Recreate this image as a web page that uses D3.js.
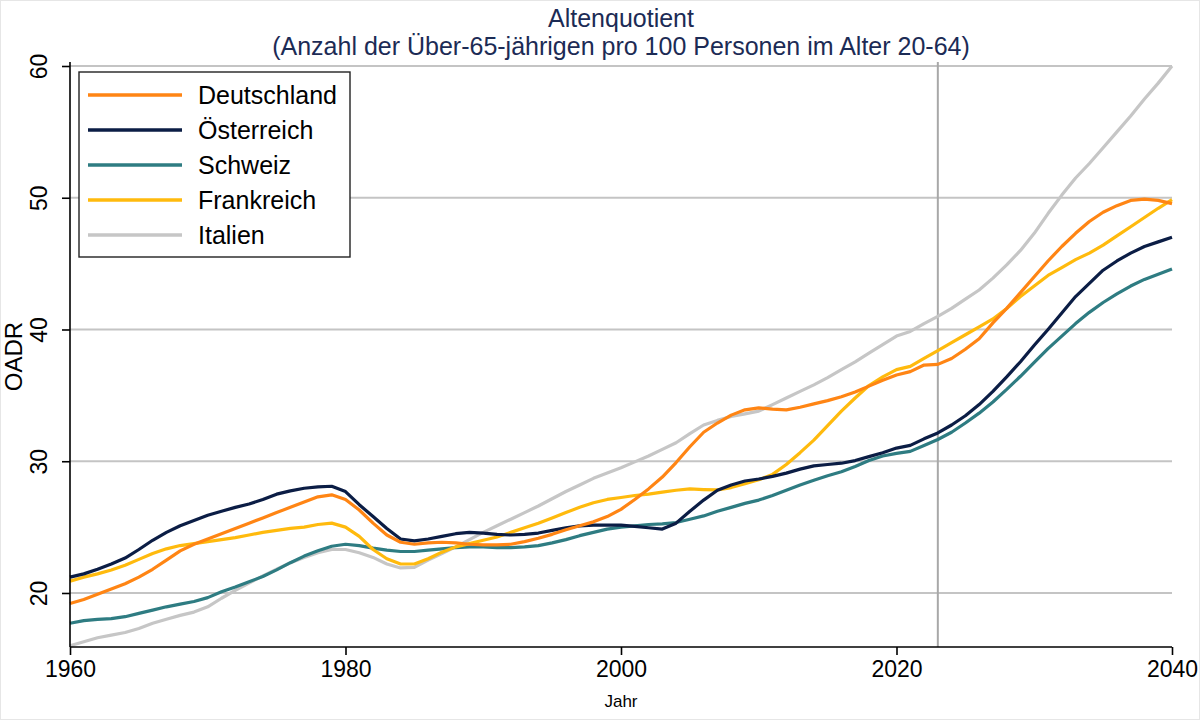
<!DOCTYPE html>
<html>
<head>
<meta charset="utf-8">
<script src="https://cdn.jsdelivr.net/npm/d3@7"></script>
<style>
html,body{margin:0;padding:0;background:#fff;}
svg{display:block;font-family:"Liberation Sans",Arial,Helvetica,sans-serif;}
</style>
</head>
<body>
<svg id="chart" width="1200" height="720"></svg>
<script>
const years = d3.range(1960, 2041);
const xTicks = [1960, 1980, 2000, 2020, 2040];
const yTicks = [20, 30, 40, 50, 60];
const markerYear = 2023;
const seriesNames = ["Deutschland", "Österreich", "Schweiz", "Frankreich", "Italien"];
const seriesColors = ["#FF8514", "#0B1D45", "#2E7C82", "#FFBA0D", "#C6C6C6"];

const deutschland = [19.2,19.5,19.9,20.3,20.7,21.2,21.8,22.5,23.2,23.7,24.1,24.5,24.9,25.3,25.7,26.1,26.5,26.9,27.3,27.45,
27.1,26.3,25.3,24.4,23.85,23.7,23.8,23.85,23.8,23.7,23.65,23.65,23.7,23.9,24.15,24.45,24.8,25.1,25.4,25.8,
26.35,27.1,27.9,28.8,29.9,31.1,32.2,32.9,33.5,33.9,34.05,33.95,33.9,34.1,34.35,34.6,34.9,35.25,35.7,36.15,
36.55,36.8,37.3,37.35,37.8,38.5,39.3,40.5,41.6,42.8,44.0,45.2,46.3,47.3,48.2,48.9,49.4,49.8,49.9,49.8,49.55];
const oesterreich = [21.2,21.45,21.8,22.2,22.65,23.3,24.0,24.6,25.1,25.5,25.9,26.2,26.5,26.75,27.1,27.5,27.75,27.95,28.05,28.1,
27.7,26.7,25.8,24.9,24.1,23.95,24.1,24.3,24.5,24.6,24.55,24.45,24.4,24.45,24.55,24.75,24.95,25.1,25.15,25.15,
25.15,25.05,24.95,24.85,25.3,26.2,27.05,27.8,28.2,28.5,28.65,28.85,29.1,29.4,29.65,29.75,29.85,30.05,30.35,30.65,
31.0,31.2,31.7,32.15,32.75,33.45,34.3,35.3,36.4,37.55,38.8,40.0,41.25,42.5,43.5,44.5,45.2,45.8,46.3,46.65,47.0];
const schweiz = [17.7,17.9,18.0,18.05,18.2,18.45,18.7,18.95,19.15,19.35,19.65,20.1,20.45,20.85,21.25,21.75,22.3,22.8,23.2,23.55,
23.7,23.6,23.4,23.25,23.15,23.15,23.25,23.35,23.45,23.5,23.5,23.45,23.45,23.5,23.6,23.8,24.05,24.35,24.6,24.85,
25.0,25.1,25.2,25.25,25.35,25.6,25.85,26.2,26.5,26.8,27.05,27.4,27.8,28.2,28.55,28.9,29.2,29.6,30.05,30.4,
30.6,30.75,31.2,31.65,32.2,32.9,33.65,34.5,35.45,36.45,37.5,38.55,39.5,40.45,41.3,42.05,42.7,43.3,43.8,44.2,44.6];
const frankreich = [20.9,21.2,21.45,21.75,22.1,22.55,23.0,23.35,23.6,23.75,23.9,24.05,24.2,24.4,24.6,24.75,24.9,25.0,25.2,25.3,
25.0,24.3,23.3,22.6,22.2,22.2,22.6,23.1,23.5,23.75,24.0,24.25,24.6,24.95,25.3,25.7,26.1,26.5,26.85,27.1,
27.25,27.4,27.5,27.65,27.8,27.9,27.85,27.82,28.0,28.3,28.6,29.0,29.75,30.65,31.6,32.7,33.8,34.8,35.75,36.4,
36.95,37.2,37.8,38.4,39.0,39.6,40.2,40.8,41.6,42.5,43.3,44.1,44.7,45.3,45.8,46.4,47.1,47.8,48.5,49.2,49.85];
const italien = [16.0,16.3,16.6,16.8,17.0,17.3,17.7,18.0,18.3,18.55,18.95,19.6,20.2,20.75,21.3,21.8,22.3,22.7,23.05,23.3,
23.3,23.05,22.7,22.2,21.9,21.95,22.5,23.0,23.5,24.05,24.6,25.1,25.6,26.1,26.6,27.15,27.7,28.2,28.7,29.1,
29.5,29.95,30.4,30.9,31.4,32.1,32.75,33.1,33.4,33.6,33.8,34.3,34.8,35.3,35.8,36.35,36.95,37.55,38.2,38.85,
39.5,39.85,40.45,41.0,41.6,42.3,43.0,43.9,44.9,46.0,47.3,48.8,50.2,51.5,52.6,53.8,55.0,56.2,57.5,58.7,60.0];

const seriesValues = [deutschland, oesterreich, schweiz, frankreich, italien];

const svg = d3.select("#chart");
const W = 1200, H = 720;
const pLeft = 70, pRight = 1172, pTop = 66, pBottom = 647;

svg.append("rect").attr("x",0.5).attr("y",0.5).attr("width",W-1).attr("height",H-1)
  .attr("fill","#fff").attr("stroke","#e6e6e6");

const x = d3.scaleLinear().domain([1960, 2040]).range([pLeft, pRight]);
const y = d3.scaleLinear().domain([15.9, 60]).range([pBottom, pTop]);

// gridlines
svg.append("g").selectAll("line").data(yTicks).join("line")
  .attr("x1", pLeft).attr("x2", pRight)
  .attr("y1", d => y(d)).attr("y2", d => y(d))
  .attr("stroke", "#c4c4c4").attr("stroke-width", 2);

// marker vertical line
svg.append("line")
  .attr("x1", x(markerYear)).attr("x2", x(markerYear))
  .attr("y1", pTop - 4).attr("y2", pBottom)
  .attr("stroke", "#a8a8a8").attr("stroke-width", 2);

// lines
const line = d3.line().x((d, i) => x(years[i])).y(d => y(d));
const order = [4, 2, 3, 1, 0];
svg.append("g").selectAll("path").data(order).join("path")
  .attr("d", k => line(seriesValues[k]))
  .attr("fill", "none")
  .attr("stroke", k => seriesColors[k])
  .attr("stroke-width", 3.2)
  .attr("stroke-linejoin", "round");

// y axis
const yAxis = svg.append("g").attr("transform", `translate(${pLeft},0)`)
  .call(d3.axisLeft(y).tickValues(yTicks).tickSize(8).tickFormat(d3.format("d")));
yAxis.select(".domain").attr("d", `M0,${pTop - 4}V${pBottom}`).attr("stroke", "#000").attr("stroke-width", 1.6);
yAxis.selectAll(".tick line").attr("stroke", "#000").attr("stroke-width", 1.6);
yAxis.selectAll(".tick text")
  .attr("font-size", 23).attr("fill", "#000")
  .attr("text-anchor", "middle")
  .attr("x", null).attr("dy", null)
  .attr("transform", "translate(-23,0) rotate(-90)");

// x axis
const xAxis = svg.append("g").attr("transform", `translate(0,${pBottom})`)
  .call(d3.axisBottom(x).tickValues(xTicks).tickSize(8).tickPadding(6).tickFormat(d3.format("d")));
xAxis.select(".domain").attr("d", `M${pLeft},0H${pRight}`).attr("stroke", "#000").attr("stroke-width", 1.6);
xAxis.selectAll(".tick line").attr("stroke", "#000").attr("stroke-width", 1.6);
xAxis.selectAll(".tick text").attr("font-size", 23).attr("fill", "#000");

// axis titles
svg.append("text").attr("transform", `translate(22,${(pTop + pBottom) / 2}) rotate(-90)`)
  .attr("text-anchor", "middle").attr("font-size", 24).attr("fill", "#000").text("OADR");
svg.append("text").attr("x", (pLeft + pRight) / 2).attr("y", 707)
  .attr("text-anchor", "middle").attr("font-size", 17).attr("fill", "#000").text("Jahr");

// titles
svg.append("text").attr("x", 621).attr("y", 27).attr("text-anchor", "middle")
  .attr("font-size", 25).attr("fill", "#1c2b55").text("Altenquotient");
svg.append("text").attr("x", 621).attr("y", 55).attr("text-anchor", "middle")
  .attr("font-size", 25).attr("fill", "#1c2b55").text("(Anzahl der Über-65-jährigen pro 100 Personen im Alter 20-64)");

// legend
const lg = svg.append("g");
lg.append("rect").attr("x", 79).attr("y", 72).attr("width", 271).attr("height", 185)
  .attr("fill", "#fff").attr("stroke", "#222").attr("stroke-width", 1.4);
const rows = lg.selectAll("g.row").data(seriesNames).join("g").attr("class", "row")
  .attr("transform", (d, i) => `translate(0,${95 + i * 35})`);
rows.append("line").attr("x1", 88).attr("x2", 182).attr("y1", 0).attr("y2", 0)
  .attr("stroke", (d, i) => seriesColors[i]).attr("stroke-width", 3.5);
rows.append("text").attr("x", 198).attr("y", 0).attr("dy", "0.36em")
  .attr("font-size", 25).attr("fill", "#000").text(d => d);
</script>
</body>
</html>
